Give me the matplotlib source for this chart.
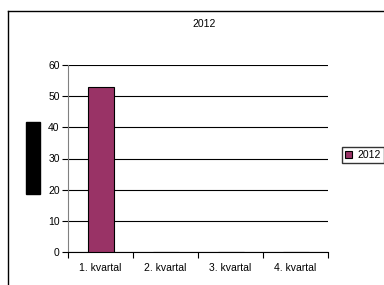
import matplotlib
matplotlib.use("Agg")
import matplotlib.pyplot as plt
from matplotlib.patches import Rectangle
from matplotlib.lines import Line2D

categories = ["1. kvartal", "2. kvartal", "3. kvartal", "4. kvartal"]
values_2012 = [53, 0, 0, 0]
series_name = "2012"
title = "2012"
yticks = [0, 10, 20, 30, 40, 50, 60]

plt.rcParams['font.family'] = ['Liberation Sans', 'DejaVu Sans']
W, H = 384, 285
fig = plt.figure(figsize=(W / 100, H / 100), dpi=100)
fig.patch.set_facecolor('white')

# outer chart border (left and top edges visible)
fig.add_artist(Line2D([8 / W, 8 / W], [0, 1 - 11 / H], color='black', lw=1.0, transform=fig.transFigure))
fig.add_artist(Line2D([8 / W, 1], [1 - 11 / H, 1 - 11 / H], color='black', lw=1.0, transform=fig.transFigure))

ax = fig.add_axes([68 / W, 1 - 252 / H, (328 - 68) / W, (252 - 65) / H])
x = list(range(len(categories)))
ax.bar(x, values_2012, width=0.4, color='#993366', edgecolor='black', linewidth=0.8, label=series_name, zorder=3)
ax.set_xlim(-0.5, len(categories) - 0.5)
ax.set_ylim(0, 60)
ax.set_yticks(yticks)
ax.set_yticklabels([str(t) for t in yticks], fontsize=7.5)
ax.yaxis.grid(True, color='black', lw=0.8)
ax.set_axisbelow(True)
ax.set_xticks([i - 0.5 for i in range(len(categories) + 1)])
ax.set_xticklabels([])
ax.set_xticks(x, minor=True)
ax.set_xticklabels(categories, minor=True, fontsize=7.5)
ax.tick_params(axis='x', which='minor', length=0, pad=8)
ax.tick_params(axis='x', which='major', length=4, width=0.8, direction='out')
ax.tick_params(axis='y', length=4, width=0.8, direction='out', pad=2)
for s in ['top', 'right']:
    ax.spines[s].set_visible(False)
ax.spines['left'].set_color('#808080')
ax.spines['bottom'].set_color('black')

fig.text(204 / W, 1 - 24 / H, title, ha='center', va='center', fontsize=7.5)

# redacted axis title block
fig.add_artist(Rectangle((26 / W, 1 - 194 / H), 14 / W, 72 / H, color='black', transform=fig.transFigure))

fig.legend(loc='center left', bbox_to_anchor=(342 / W, 1 - 155 / H), fontsize=7.5,
           frameon=True, fancybox=False, edgecolor='black', handlelength=0.7, handleheight=0.7,
           handletextpad=0.5, borderpad=0.3, borderaxespad=0)

fig.savefig("out.png", dpi=100)
